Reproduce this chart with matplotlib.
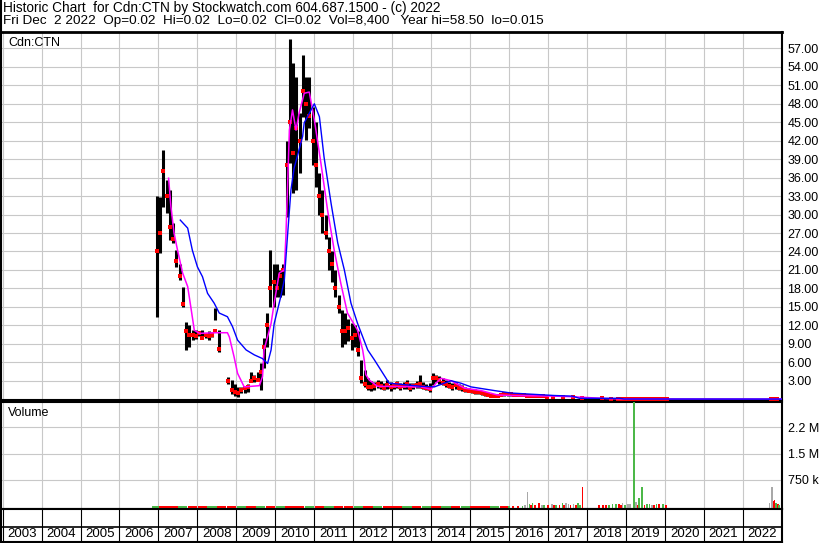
import matplotlib
matplotlib.use('Agg')
import matplotlib.pyplot as plt
from matplotlib.lines import Line2D

# monthly price bars (high / low / close)
months = ['2006-12',
          '2007-01', '2007-02', '2007-03', '2007-04', '2007-05', '2007-06',
          '2007-07', '2007-08', '2007-09', '2007-10', '2007-11', '2007-12',
          '2008-01', '2008-02', '2008-03', '2008-04', '2008-05', '2008-06',
          '2008-07', '2008-10', '2008-11', '2008-12',
          '2009-01', '2009-02', '2009-03', '2009-04', '2009-05', '2009-06',
          '2009-07', '2009-08', '2009-09', '2009-10', '2009-11', '2009-12',
          '2010-01', '2010-02', '2010-03', '2010-04', '2010-05', '2010-06',
          '2010-07', '2010-08', '2010-09', '2010-10', '2010-11', '2010-12',
          '2011-01', '2011-02', '2011-03', '2011-04', '2011-05', '2011-06',
          '2011-07', '2011-08', '2011-09', '2011-10', '2011-11', '2011-12',
          '2012-01', '2012-02', '2012-03', '2012-04', '2012-05', '2012-06',
          '2012-07', '2012-08', '2012-09', '2012-10', '2012-11', '2012-12',
          '2013-01', '2013-02', '2013-03', '2013-04', '2013-05', '2013-06',
          '2013-07', '2013-08', '2013-09', '2013-10', '2013-11', '2013-12',
          '2014-01', '2014-02', '2014-03', '2014-04', '2014-05', '2014-06',
          '2014-07', '2014-08', '2014-09', '2014-10', '2014-11', '2014-12',
          '2015-01', '2015-02', '2015-03', '2015-04', '2015-05', '2015-06',
          '2015-07', '2015-08', '2015-09', '2015-10', '2015-11', '2015-12',
          '2016-01', '2016-02', '2016-03', '2016-04', '2016-05', '2016-06',
          '2016-07', '2016-08', '2016-09', '2016-10', '2016-11', '2016-12',
          '2017-02', '2017-05', '2017-08', '2017-11',
          '2018-05', '2018-08', '2018-10', '2018-11', '2018-12',
          '2019-01', '2019-02', '2019-03', '2019-04', '2019-05', '2019-06',
          '2019-07', '2019-08', '2019-09', '2019-10', '2019-11', '2019-12',
          '2020-01', '2022-09', '2022-10', '2022-11']

highs = [33.0,
         32.9, 40.5, 35.6, 34.0, 28.6, 24.2, 22.0, 18.3, 12.6, 12.0, 11.2, 11.2,
         10.9, 11.2, 10.8, 11.0, 10.9, 14.8, 11.2, 3.6, 3.1, 2.5,
         2.0, 2.0, 2.2, 2.5, 4.5, 4.0, 4.5, 5.9, 10.0, 14.0, 24.2, 22.0,
         22.0, 21.0, 22.0, 42.0, 58.5, 54.6, 52.4, 46.5, 56.0, 52.4, 52.4, 47.5,
         45.0, 36.7, 34.0, 30.0, 26.4, 24.0, 21.0, 17.0, 14.5, 14.0, 13.0, 12.3,
         12.0, 11.0, 6.4, 4.7, 3.4, 3.0, 2.8, 3.2, 2.9, 2.6, 3.1, 2.8,
         2.7, 3.0, 2.6, 2.8, 3.2, 2.6, 2.7, 2.9, 3.9, 2.8, 2.5, 2.6,
         4.3, 4.0, 3.8, 3.4, 3.1, 2.8, 2.6, 2.8, 2.5, 2.3, 2.0, 1.9,
         1.7, 1.6, 1.5, 1.3, 1.2, 1.0, 0.9, 0.8, 0.8, 0.9, 1.0, 1.0,
         1.0, 0.95, 0.9, 0.9, 0.85, 0.8, 0.75, 0.7, 0.7, 0.65, 0.6, 0.6,
         0.55, 0.5, 0.45, 0.35,
         0.25, 0.2, 0.1, 0.08, 0.06,
         0.06, 0.15, 0.1, 0.06, 0.05, 0.05, 0.04, 0.04, 0.04, 0.04, 0.04, 0.04,
         0.04, 0.03, 0.03, 0.02]

lows = [13.4,
        23.7, 31.3, 30.2, 25.9, 25.3, 21.5, 19.4, 15.0, 8.0, 8.5, 9.6, 9.8,
        10.2, 9.8, 10.0, 9.6, 10.1, 12.9, 7.7, 2.5, 0.8, 0.5,
        0.4, 1.0, 1.0, 1.2, 2.8, 2.8, 3.0, 1.5, 5.0, 8.5, 15.0, 15.0,
        16.6, 16.6, 17.0, 29.6, 38.4, 33.5, 34.0, 36.7, 45.9, 42.1, 44.0, 38.0,
        34.5, 30.0, 27.0, 26.0, 21.0, 19.0, 16.6, 14.0, 8.5, 9.0, 9.5, 8.0,
        8.5, 7.0, 2.6, 2.0, 1.5, 1.3, 1.5, 1.8, 1.6, 1.5, 1.6, 1.4,
        1.6, 1.8, 1.5, 1.6, 1.7, 1.4, 1.6, 1.8, 1.8, 1.6, 1.5, 1.2,
        2.3, 2.8, 2.5, 2.3, 2.0, 1.8, 1.5, 1.6, 1.5, 1.4, 1.2, 1.1,
        1.0, 0.9, 0.8, 0.7, 0.6, 0.5, 0.4, 0.4, 0.4, 0.5, 0.6, 0.6,
        0.6, 0.6, 0.55, 0.5, 0.5, 0.45, 0.4, 0.4, 0.35, 0.35, 0.3, 0.3,
        0.3, 0.25, 0.2, 0.1,
        0.08, 0.05, 0.03, 0.03, 0.02,
        0.02, 0.02, 0.02, 0.02, 0.02, 0.02, 0.02, 0.02, 0.02, 0.02, 0.02, 0.02,
        0.02, 0.015, 0.015, 0.015]

closes = [24.0,
          27.0, 37.0, 33.0, 28.0, 26.0, 22.5, 20.0, 15.5, 11.0, 10.5, 10.5, 10.3,
          10.8, 10.0, 10.5, 10.2, 10.5, 11.0, 8.2, 3.0, 1.5, 1.2,
          1.0, 1.5, 1.8, 2.0, 3.0, 3.5, 3.2, 4.5, 8.5, 12.0, 18.0, 19.0,
          18.0, 20.0, 21.0, 38.0, 45.0, 40.0, 44.0, 42.0, 50.0, 48.0, 46.0, 42.0,
          38.0, 33.0, 30.0, 27.0, 24.0, 22.0, 18.0, 15.0, 11.0, 11.0, 11.5, 10.0,
          10.5, 8.0, 3.5, 2.5, 2.0, 2.0, 2.2, 2.5, 2.2, 1.9, 2.3, 2.0,
          2.2, 2.4, 2.0, 2.1, 2.4, 1.9, 2.1, 2.3, 2.4, 2.0, 1.9, 1.6,
          3.5, 3.4, 3.2, 2.7, 2.5, 2.2, 2.0, 2.3, 1.9, 1.8, 1.5, 1.4,
          1.3, 1.2, 1.1, 1.0, 0.8, 0.7, 0.6, 0.55, 0.5, 0.7, 0.8, 0.9,
          0.8, 0.75, 0.7, 0.7, 0.65, 0.6, 0.55, 0.5, 0.5, 0.45, 0.45, 0.4,
          0.4, 0.35, 0.3, 0.2,
          0.15, 0.1, 0.05, 0.05, 0.04,
          0.04, 0.05, 0.04, 0.03, 0.03, 0.03, 0.03, 0.03, 0.03, 0.03, 0.03, 0.03,
          0.03, 0.02, 0.02, 0.02]

# moving averages (magenta = short, blue = long), points along the drawn lines
fast_t = [2007.26, 2007.32, 2007.40, 2007.49, 2007.62, 2007.75, 2007.83, 2007.92,
          2008.05, 2008.47, 2008.77, 2008.82, 2008.94, 2009.03, 2009.20, 2009.59,
          2009.67, 2009.71, 2009.89, 2009.97, 2010.10, 2010.23, 2010.27, 2010.36,
          2010.44, 2010.53, 2010.61, 2010.74, 2010.87, 2011.00, 2011.17, 2011.34,
          2011.51, 2011.68, 2011.85, 2012.11, 2012.24, 2012.28, 2012.32, 2012.41,
          2012.62, 2013.74, 2013.99, 2014.12, 2014.25, 2014.51, 2014.85, 2015.28,
          2015.69, 2016.05, 2017.16, 2017.62, 2018.50, 2019.00, 2022.98]
fast_v = [35.9, 31.3, 27.0, 24.2, 20.5, 18.3, 15.0, 11.2,
          10.7, 10.8, 10.8, 10.1, 6.9, 4.2, 2.0, 2.2,
          3.7, 8.0, 12.3, 15.6, 20.5, 21.0, 26.4, 43.7,
          47.0, 43.7, 46.5, 49.7, 49.9, 45.4, 38.3, 30.7,
          24.2, 18.8, 14.0, 11.2, 8.0, 6.4, 4.0, 3.1,
          2.1, 2.0, 1.6, 2.6, 3.4, 3.0, 1.8, 1.4,
          0.7, 0.6, 0.5, 0.4, 0.1, 0.03, 0.02]

slow_t = [2007.56, 2007.75, 2007.87, 2008.00, 2008.13, 2008.26, 2008.43, 2008.56,
          2008.77, 2008.90, 2009.03, 2009.25, 2009.46, 2009.67, 2009.80, 2009.89,
          2009.97, 2010.14, 2010.23, 2010.31, 2010.40, 2010.48, 2010.70, 2010.74,
          2011.00, 2011.13, 2011.25, 2011.43, 2011.60, 2011.77, 2011.94, 2012.11,
          2012.37, 2012.54, 2012.71, 2012.92, 2013.74, 2014.08, 2014.33, 2014.51,
          2014.76, 2015.02, 2015.62, 2016.05, 2017.16, 2017.62, 2017.80, 2018.83,
          2018.95, 2022.98]
slow_v = [29.1, 27.8, 24.2, 21.5, 19.9, 17.2, 15.6, 14.0,
          13.4, 11.8, 9.6, 8.0, 7.2, 6.6, 5.8, 8.0,
          12.3, 16.7, 19.4, 26.4, 34.0, 37.5, 42.7, 44.9,
          48.0, 45.9, 39.3, 31.8, 25.4, 21.0, 15.6, 12.3,
          8.0, 6.4, 4.7, 2.6, 2.1, 2.0, 2.6, 3.0,
          2.6, 2.0, 1.4, 1.0, 0.6, 0.5, 0.15, 0.15,
          0.03, 0.02]

# thin volume strip 2007-2015 (quarterly) and the later daily bars
strip_months = ['2006-12', '2007-02', '2007-05', '2007-08', '2007-11',
                '2008-02', '2008-05', '2008-08', '2008-11', '2009-02', '2009-05',
                '2009-08', '2009-11', '2010-02', '2010-05', '2010-08', '2010-11',
                '2011-02', '2011-05', '2011-08', '2011-11', '2012-02', '2012-05',
                '2012-08', '2012-11', '2013-02', '2013-05', '2013-08', '2013-11',
                '2014-02', '2014-05', '2014-08', '2014-11', '2015-02', '2015-05',
                '2015-08', '2015-11']
strip_vol = [10000, 15000, 10000, 15000, 8000, 10000, 8000, 5000, 10000,
             8000, 10000, 15000, 10000, 15000, 10000, 8000, 10000, 15000,
             10000, 8000, 10000, 15000, 10000, 8000, 10000, 8000, 10000,
             15000, 8000, 10000, 15000, 8000, 10000, 8000, 10000, 8000, 10000]
strip_col = ['g', 'r', 'r', 'g', 'r', 'r', 'g', 'r', 'r', 'g', 'r', 'g', 'r',
             'g', 'r', 'r', 'g', 'r', 'g', 'r', 'r', 'g', 'r', 'g', 'r', 'r',
             'g', 'r', 'g', 'r', 'g', 'r', 'g', 'r', 'r', 'g', 'r']

day_t = [2015.92, 2016.00, 2016.09, 2016.22, 2016.34, 2016.41, 2016.47, 2016.52,
         2016.56, 2016.60, 2016.67, 2016.77, 2016.84, 2016.90, 2016.99, 2017.10,
         2017.14, 2017.20, 2017.29, 2017.37, 2017.41, 2017.46, 2017.52, 2017.57,
         2017.65, 2017.71, 2017.77, 2017.82, 2017.88, 2018.31, 2018.40, 2018.49,
         2018.57, 2018.65, 2018.74, 2018.81, 2018.87, 2018.91, 2018.98, 2019.04,
         2019.10, 2019.21, 2019.26, 2019.30, 2019.34, 2019.41, 2019.47, 2019.53,
         2019.60, 2019.67, 2019.72, 2019.78, 2019.85, 2019.94, 2020.02, 2022.68,
         2022.75, 2022.78, 2022.81, 2022.85, 2022.89, 2022.93]
day_vol = [20000, 25000, 15000, 20000, 25000, 50000, 420000, 60000,
           45000, 85000, 35000, 110000, 50000, 30000, 40000, 70000,
           40000, 35000, 50000, 110000, 40000, 110000, 65000, 50000,
           60000, 35000, 85000, 30000, 560000, 40000, 40000, 35000,
           30000, 55000, 60000, 80000, 40000, 110000, 35000, 60000,
           80000, 3400000, 130000, 50000, 230000, 560000, 40000, 60000,
           70000, 45000, 35000, 55000, 75000, 70000, 30000, 100000,
           560000, 150000, 180000, 110000, 80000, 40000]
day_col = ['r', 'g', 'r', 'r', 'g', 'k', 'k', 'g',
           'r', 'g', 'r', 'r', 'k', 'g', 'r', 'k',
           'r', 'g', 'r', 'g', 'r', 'k', 'k', 'r',
           'k', 'r', 'g', 'g', 'r', 'r', 'r', 'r',
           'g', 'g', 'g', 'r', 'r', 'k', 'g', 'k',
           'k', 'g', 'k', 'r', 'g', 'g', 'r', 'g',
           'g', 'k', 'r', 'g', 'r', 'g', 'r', 'k',
           'k', 'r', 'r', 'g', 'r', 'g']

price_ticks = [3, 6, 9, 12, 15, 18, 21, 24, 27, 30, 33, 36, 39, 42, 45, 48, 51, 54, 57]
vol_ticks = [750000, 1500000, 2250000]
vol_labels = ['750 k', '1.5 M', '2.2 M']
years = list(range(2003, 2023))

header1 = 'Historic Chart  for Cdn:CTN by Stockwatch.com 604.687.1500 - (c) 2022'
header2 = ('Fri Dec  2 2022  Op=0.02  Hi=0.02  Lo=0.02  Cl=0.02  Vol=8,400   '
           'Year hi=58.50  lo=0.015')

W, H = 830, 543
GRID = '#c8c8c8'
VOL_COLORS = {'g': '#4cb848', 'r': '#ff0000', 'k': '#a8a8a8'}
VOL_FLOOR = -60000
XLIM = (2002.96, 2023.0)


def box(x0, y0, x1, y1):
    # pixel box (top-left origin) -> figure fraction rect
    return [x0 / W, 1 - y1 / H, (x1 - x0) / W, (y1 - y0) / H]


def dec_year(m):
    y, mo = m.split('-')
    return int(y) + (int(mo) - 0.5) / 12


plt.rcParams['font.family'] = ['Liberation Sans', 'DejaVu Sans']
fig = plt.figure(figsize=(W / 100, H / 100), dpi=100, facecolor='white')

# header
fig.text(3 / W, 1 - 8 / H, header1, fontsize=9.8, va='center', ha='left')
fig.text(3 / W, 1 - 21 / H, header2, fontsize=9.7, va='center', ha='left')
fig.add_artist(Line2D([1 / W, 1 / W], [1, 1 - 31 / H], color='black', lw=1.5))

# price panel
ax = fig.add_axes(box(1, 31.5, 782, 400))
t = [dec_year(m) for m in months]
ax.vlines(t, lows, highs, colors='black', lw=2.2, zorder=3)
ax.plot(t, closes, ls='none', marker='s', ms=2.4, color='#ff0000', mew=0, zorder=4)
ax.plot(fast_t, fast_v, color='#ff00ff', lw=1.1, zorder=5)
ax.plot(slow_t, slow_v, color='#0000ff', lw=1.0, zorder=6)
ax.set_xlim(*XLIM)
ax.set_ylim(-0.13, 59.74)
ax.set_xticks(years)
ax.set_yticks(price_ticks)
ax.set_yticklabels(['%.2f' % p for p in price_ticks])
ax.yaxis.tick_right()
ax.tick_params(length=0, labelbottom=False, labelsize=9, pad=4)
ax.grid(color=GRID, lw=0.8)
ax.set_axisbelow(True)
for s in ax.spines.values():
    s.set_linewidth(1.5)
ax.spines['top'].set_linewidth(2)
fig.text(8 / W, 1 - 43 / H, 'Cdn:CTN', fontsize=9, va='center')

# volume panel
axv = fig.add_axes(box(1, 401.5, 782, 508.5))
st = [dec_year(m) for m in strip_months]
axv.bar(st, [v - VOL_FLOOR for v in strip_vol], bottom=VOL_FLOOR, width=0.24,
        color=[VOL_COLORS[c] for c in strip_col], zorder=3)
axv.bar(day_t, [v - VOL_FLOOR for v in day_vol], bottom=VOL_FLOOR, width=0.045,
        color=[VOL_COLORS[c] for c in day_col], zorder=3)
axv.set_xlim(*XLIM)
axv.set_ylim(VOL_FLOOR, 2.98e6)
axv.set_xticks(years)
axv.set_yticks(vol_ticks)
axv.set_yticklabels(vol_labels)
axv.yaxis.tick_right()
axv.tick_params(length=0, labelbottom=False, labelsize=9, pad=4)
axv.grid(color=GRID, lw=0.8)
axv.set_axisbelow(True)
for s in axv.spines.values():
    s.set_linewidth(1.5)
fig.text(8 / W, 1 - 413 / H, 'Volume', fontsize=9, va='center')

# year band
axb = fig.add_axes(box(1, 508.5, 782, 541.5))
axb.set_xlim(*XLIM)
axb.set_ylim(0, 1)
axb.set_xticks([])
axb.set_yticks([])
axb.axhline(15 / 33, color='black', lw=1.2)
for y in years:
    axb.axvline(y, color='black', lw=0.8)
    axb.text(y + 0.5, 7.5 / 33, str(y), ha='center', va='center', fontsize=9.5)
for s in axb.spines.values():
    s.set_linewidth(1.5)

fig.savefig('out.png', dpi=100, facecolor='white')
